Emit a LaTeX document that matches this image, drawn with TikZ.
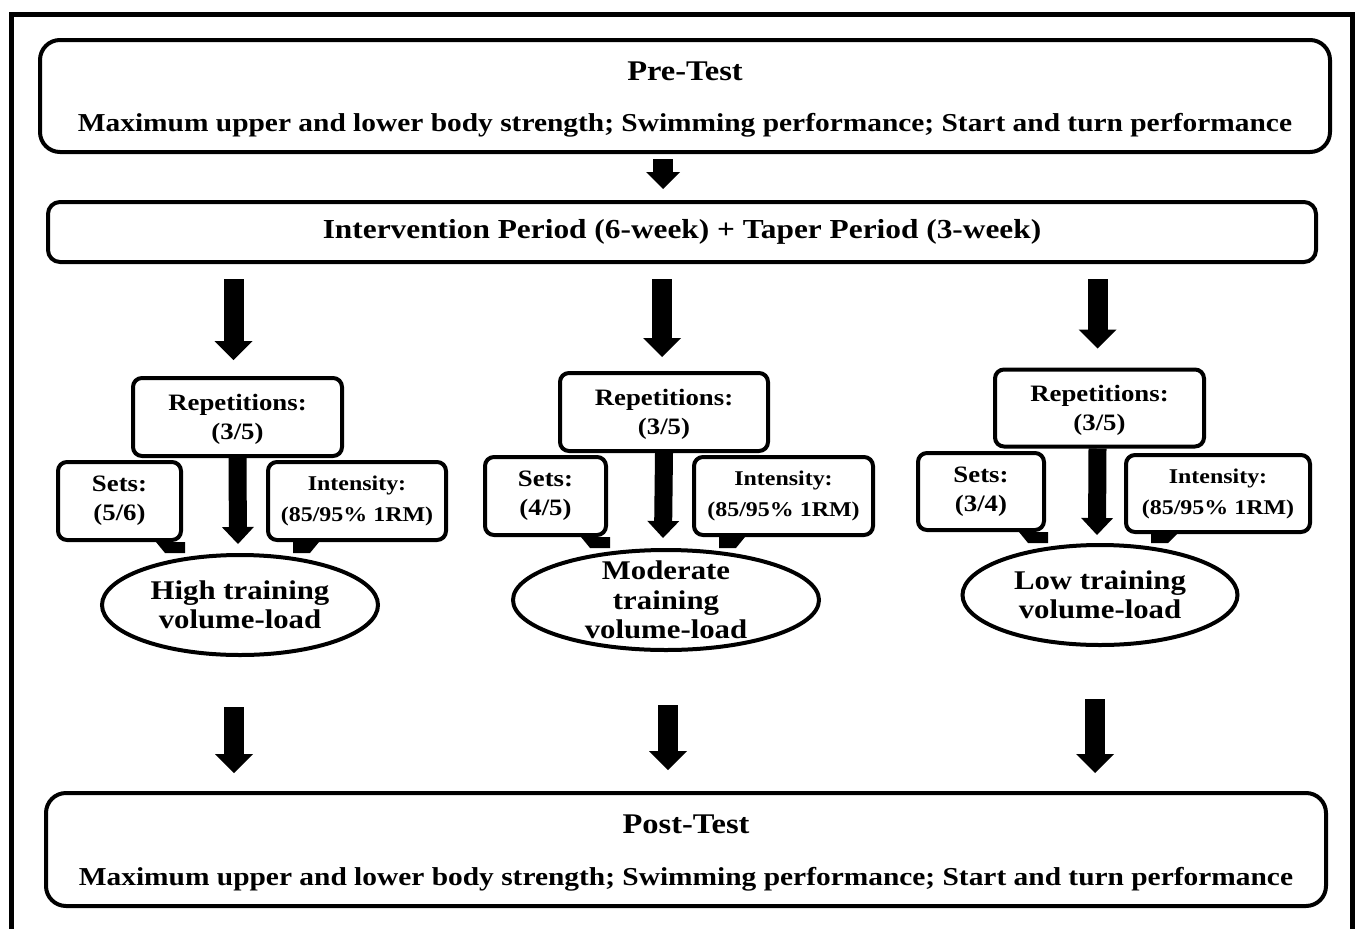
\documentclass[tikz,border=0pt]{standalone}
\usepackage{fontspec}
\setmainfont{Liberation Serif}[FakeStretch=1.14]
\usetikzlibrary{arrows.meta,shapes.geometric,calc}
\newcommand\hdfont{\fontsize{28.5}{30}\selectfont}
\newcommand\calltails[3]{%
  \coordinate (tA) at ($(#1.south east)+(2,0)$);
  \coordinate (tB) at ($(#1.south east)+(-18,0)$);
  \coordinate (tC) at ($(#2.south west)+(44,0)$);
  \coordinate (tD) at ($(#2.south west)+(27,0)$);
  \fill ($(#1.south east)+(-27,0)$) -- (tA) -- (tA |- #3.north) -- (tB |- #3.north) -- cycle;
  \fill (tD) -- ($(#2.south west)+(53,0)$) -- (tC |- #3.north) -- (tD |- #3.north) -- cycle;
}
\begin{document}
\begin{tikzpicture}[x=1pt,y=-1pt,
  bigbox/.style={draw, line width=4pt, rounded corners=20pt, align=center, inner sep=0pt},
  smallbox/.style={draw, line width=4pt, rounded corners=9pt, align=center, inner sep=0pt},
  ellnode/.style={draw, ellipse, line width=4pt, inner sep=0pt},
  bigarrow/.style={line width=20pt, -{Triangle[width=38pt,length=19pt,line width=0pt]}},
  smallarrow/.style={line width=20pt, -{Triangle[width=34pt,length=17pt,line width=0pt]}},
  innerarrow/.style={line width=18pt, -{Triangle[width=32pt,length=17pt,line width=0pt]}},
  bigtext/.style={font=\fontsize{25.8}{30}\selectfont\bfseries},
  intertext/.style={font=\fontsize{27.5}{30}\selectfont\bfseries},
  boxtext/.style={font=\fontsize{23.5}{29}\selectfont\bfseries},
  inttext/.style={font=\fontsize{21}{31}\selectfont\bfseries},
  elltext/.style={align=center, inner sep=0pt, font=\fontsize{27}{29.5}\selectfont\bfseries},
]
\useasboundingbox (0,0) rectangle (1358,929);
\fill[white] (0,0) rectangle (1358,929);
% outer frame
\draw[line width=5pt] (11,940) -- (11,14) -- (1352,14) -- (1352,940);

% main boxes
\node[bigbox, bigtext, minimum width=1290pt, minimum height=112pt] (pre) at (685,96)
  {\rule{0pt}{26pt}{\hdfont Pre-Test}\\[21pt]Maximum upper and lower body strength; Swimming performance; Start and turn performance};
\node[bigbox, intertext, rounded corners=12pt, minimum width=1268pt, minimum height=60pt] (inter) at (682,232)
  {Intervention Period (6-week) + Taper Period (3-week)};
\node[bigbox, bigtext, minimum width=1280pt, minimum height=113pt] (post) at (686,849.5)
  {\rule{0pt}{26pt}{\hdfont Post-Test}\\[22pt]Maximum upper and lower body strength; Swimming performance; Start and turn performance};

% left group
\node[smallbox, boxtext, minimum width=209pt, minimum height=78pt] (rep1) at (237.5,417) {\rule{0pt}{20pt}Repetitions:\\(3/5)};
\node[smallbox, boxtext, minimum width=123pt, minimum height=78pt] (sets1) at (119.5,501) {Sets:\\(5/6)};
\node[smallbox, inttext, minimum width=178pt, minimum height=78pt] (int1) at (357,501) {Intensity:\\(85/95\% 1RM)};
\node[ellnode, minimum width=276pt, minimum height=100pt] (ell1) at (240,605) {};
\node[elltext] (ell1t) at (ell1.center) {High training\\volume-load};

% middle group
\node[smallbox, boxtext, minimum width=208pt, minimum height=78pt] (rep2) at (664,412) {\rule{0pt}{20pt}Repetitions:\\(3/5)};
\node[smallbox, boxtext, minimum width=121pt, minimum height=78pt] (sets2) at (545.5,496) {Sets:\\(4/5)};
\node[smallbox, inttext, minimum width=179pt, minimum height=78pt] (int2) at (783.5,496) {Intensity:\\(85/95\% 1RM)};
\node[ellnode, minimum width=306pt, minimum height=100pt] (ell2) at (666,600) {};
\node[elltext] (ell2t) at (ell2.center) {Moderate\\training\\volume-load};

% right group
\node[smallbox, boxtext, minimum width=209pt, minimum height=77pt] (rep3) at (1099.5,408) {\rule{0pt}{20pt}Repetitions:\\(3/5)};
\node[smallbox, boxtext, minimum width=126pt, minimum height=77pt] (sets3) at (981,491.5) {Sets:\\(3/4)};
\node[smallbox, inttext, minimum width=184pt, minimum height=77pt] (int3) at (1218,493.5) {Intensity:\\(85/95\% 1RM)};
\node[ellnode, minimum width=275pt, minimum height=100pt] (ell3) at (1100,595) {};
\node[elltext] (ell3t) at (ell3.center) {Low training\\volume-load};

% callout tails
\calltails{sets1}{int1}{ell1}
\calltails{sets2}{int2}{ell2}
\calltails{sets3}{int3}{ell3}

% arrows
\draw[smallarrow] ($(pre.south)+(-22,5)$) -- ($(inter.north)+(-19,-11)$);
\draw[bigarrow] ($(inter.south -| rep1.north)+(-4,15)$) -- ($(rep1.north)+(-4,-16)$);
\draw[bigarrow] ($(inter.south -| rep2.north)+(-2,15)$) -- ($(rep2.north)+(-2,-14)$);
\draw[bigarrow] ($(inter.south -| rep3.north)+(-2,15)$) -- ($(rep3.north)+(-2,-19)$);

\draw[innerarrow] ($(rep1.south)+(0,0)$) -- ($(ell1.north)+(-2,-9)$);
\draw[innerarrow] ($(rep2.south)+(0,0)$) -- ($(ell2.north)+(-3,-10)$);
\draw[innerarrow] ($(rep3.south)+(-2,0)$) -- ($(ell3.north)+(-3,-8)$);

\draw[bigarrow] ($(ell1.south)+(-6,50)$) -- ($(post.north -| ell1.south)+(-6,-18)$);
\draw[bigarrow] ($(ell2.south)+(2,53)$) -- ($(post.north -| ell2.south)+(2,-21)$);
\draw[bigarrow] ($(ell3.south)+(-5,52)$) -- ($(post.north -| ell3.south)+(-5,-18)$);
\end{tikzpicture}
\end{document}
